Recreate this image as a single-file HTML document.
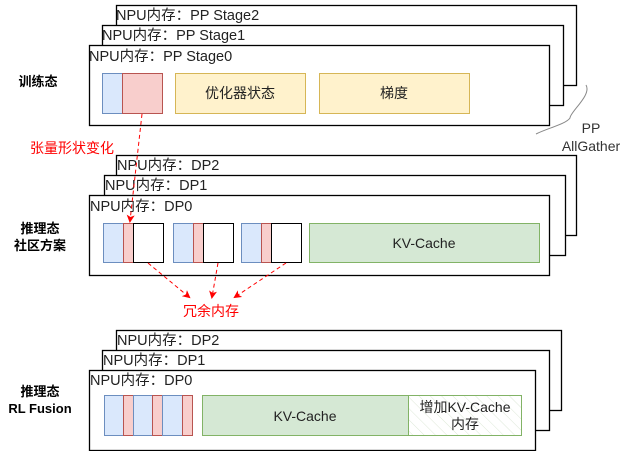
<!DOCTYPE html>
<html><head><meta charset="utf-8"><style>
body{margin:0;background:#fff;}
svg text{font-family:"Liberation Sans","Noto Sans CJK SC",sans-serif;}
</style></head><body>
<svg width="623" height="451" viewBox="0 0 623 451" xmlns="http://www.w3.org/2000/svg">
<defs>
<pattern id="h" width="8" height="8" patternUnits="userSpaceOnUse" patternTransform="rotate(-45)">
<line x1="0" y1="0" x2="0" y2="8" stroke="#dde8d8" stroke-width="1"/></pattern>
<marker id="a" markerWidth="8" markerHeight="8" refX="6" refY="4" orient="auto" markerUnits="userSpaceOnUse"><path d="M0,0 L8,4 L0,8 L2,4z" fill="#f00"/></marker>
</defs>
<g fill="#fff" stroke="#000" stroke-width="1.3">
<rect x="116.5" y="5.5" width="460" height="80"/>
<rect x="102.5" y="25.5" width="461" height="80"/>
<rect x="89.5" y="45.5" width="460" height="80"/>
<rect x="116.5" y="155.5" width="460" height="80"/>
<rect x="104.5" y="175.5" width="461" height="80"/>
<rect x="89.5" y="195.5" width="460" height="80"/>
<rect x="116.5" y="330.5" width="445" height="80"/>
<rect x="102.5" y="350.5" width="447" height="80"/>
<rect x="89.5" y="370.5" width="446" height="80"/>
</g>
<g font-size="14.5" fill="#222">
<text x="116" y="20">NPU内存：PP Stage2</text>
<text x="102" y="40">NPU内存：PP Stage1</text>
<text x="89" y="61">NPU内存：PP Stage0</text>
<text x="117" y="170">NPU内存：DP2</text>
<text x="105" y="190">NPU内存：DP1</text>
<text x="90" y="211">NPU内存：DP0</text>
<text x="117" y="345">NPU内存：DP2</text>
<text x="103" y="365">NPU内存：DP1</text>
<text x="90" y="385">NPU内存：DP0</text>
</g>
<rect x="102.5" y="73.5" width="20" height="40" fill="#dae8fc" stroke="#6c8ebf"/>
<rect x="122.5" y="73.5" width="40" height="40" fill="#f8cecc" stroke="#b85450"/>
<rect x="175.5" y="73.5" width="130" height="40" fill="#fff2cc" stroke="#d6b656"/>
<rect x="319.5" y="73.5" width="150" height="40" fill="#fff2cc" stroke="#d6b656"/>
<g font-size="14" fill="#222" text-anchor="middle">
<text x="240" y="98">优化器状态</text>
<text x="394" y="98">梯度</text>
</g>
<g stroke-width="1">
<rect x="103.5" y="223.5" width="20" height="39" fill="#dae8fc" stroke="#6c8ebf"/>
<rect x="123.5" y="223.5" width="10" height="39" fill="#f8cecc" stroke="#b85450"/>
<rect x="133.5" y="223.5" width="30" height="39" fill="#fff" stroke="#000"/>
<rect x="173.5" y="223.5" width="20" height="39" fill="#dae8fc" stroke="#6c8ebf"/>
<rect x="193.5" y="223.5" width="10" height="39" fill="#f8cecc" stroke="#b85450"/>
<rect x="203.5" y="223.5" width="30" height="39" fill="#fff" stroke="#000"/>
<rect x="241.5" y="223.5" width="20" height="39" fill="#dae8fc" stroke="#6c8ebf"/>
<rect x="261.5" y="223.5" width="10" height="39" fill="#f8cecc" stroke="#b85450"/>
<rect x="271.5" y="223.5" width="30" height="39" fill="#fff" stroke="#000"/>
<rect x="309.5" y="223.5" width="230" height="39" fill="#d5e8d4" stroke="#82b366"/>
</g>
<text x="424" y="248" font-size="14" fill="#222" text-anchor="middle">KV-Cache</text>
<g stroke-width="1">
<rect x="104.5" y="395.5" width="19" height="40" fill="#dae8fc" stroke="#6c8ebf"/>
<rect x="123.5" y="395.5" width="10" height="40" fill="#f8cecc" stroke="#b85450"/>
<rect x="133.5" y="395.5" width="19" height="40" fill="#dae8fc" stroke="#6c8ebf"/>
<rect x="152.5" y="395.5" width="10" height="40" fill="#f8cecc" stroke="#b85450"/>
<rect x="162.5" y="395.5" width="20" height="40" fill="#dae8fc" stroke="#6c8ebf"/>
<rect x="182.5" y="395.5" width="10" height="40" fill="#f8cecc" stroke="#b85450"/>
<rect x="202.5" y="395.5" width="206" height="40" fill="#d5e8d4" stroke="#82b366"/>
<rect x="408.5" y="395.5" width="113" height="40" fill="url(#h)" stroke="#82b366"/>
</g>
<g font-size="14" fill="#222" text-anchor="middle">
<text x="305" y="421">KV-Cache</text>
<text x="465" y="412">增加KV-Cache</text>
<text x="465" y="429">内存</text>
</g>
<g font-size="13" font-weight="bold" text-anchor="middle">
<text x="38" y="86">训练态</text>
<text x="40" y="233">推理态</text>
<text x="40" y="250">社区方案</text>
<text x="40" y="396">推理态</text>
<text x="40" y="413">RL Fusion</text>
</g>
<g stroke="#f00" stroke-dasharray="4 3" fill="none" stroke-width="1">
<line x1="142" y1="114" x2="130" y2="221" marker-end="url(#a)"/>
<line x1="148" y1="263" x2="189" y2="297" marker-end="url(#a)"/>
<line x1="218" y1="263" x2="212" y2="297" marker-end="url(#a)"/>
<line x1="286" y1="263" x2="235" y2="297" marker-end="url(#a)"/>
</g>
<text x="72" y="153" font-size="14" fill="#f00" text-anchor="middle">张量形状变化</text>
<text x="211" y="316" font-size="14" fill="#f00" text-anchor="middle">冗余内存</text>
<path d="M586,85 C592,95 570,112 570,118 C566,124 548,128 536,134" fill="none" stroke="#888" stroke-width="1"/>
<text x="591" y="133" font-size="14" fill="#333" text-anchor="middle">PP</text>
<text x="591" y="151" font-size="14" fill="#333" text-anchor="middle">AllGather</text>
</svg>
</body></html>
